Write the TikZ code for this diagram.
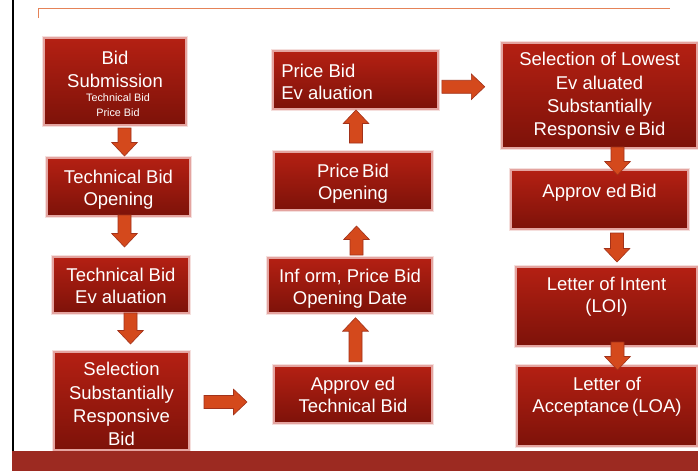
\documentclass[tikz,border=0pt]{standalone}
\usepackage{fontspec}
\setmainfont{Liberation Sans}
\usetikzlibrary{calc}
\definecolor{boxtop}{HTML}{B42013}
\definecolor{boxbot}{HTML}{7D1209}
\definecolor{boxglow}{HTML}{E4A4A0}
\definecolor{arrfill}{HTML}{D4491C}
\definecolor{arrline}{HTML}{A2321A}
\definecolor{bandred}{HTML}{9C2A21}
\definecolor{topline}{HTML}{E58358}
\tikzset{
  box/.style={draw=boxglow, line width=1.2pt, top color=boxtop, bottom color=boxbot,
    inner sep=0pt, preaction={draw=boxglow, line width=4pt, opacity=0.35}},
  txt/.style={text=white, align=center, inner sep=0pt, anchor=north,
    font=\fontsize{18.5}{22.5}\selectfont},
  txttall/.style={txt, font=\fontsize{18.5}{23.3}\selectfont},
  smalltxt/.style={text=white, align=center, inner sep=0pt, anchor=north,
    font=\fontsize{10.8}{15}\selectfont},
  arr/.style={fill=arrfill, draw=arrline, line width=0.6pt, line join=miter}
}
\newcommand\blockarr[3]{%
  \begin{scope}[shift={#1},rotate=#2]
    \draw[arr] ({-#3/2},-6.5) -- ({#3/2-13.5},-6.5) -- ({#3/2-13.5},-12.8) -- ({#3/2},0)
      -- ({#3/2-13.5},12.8) -- ({#3/2-13.5},6.5) -- ({-#3/2},6.5) -- cycle;
  \end{scope}}
\begin{document}
\begin{tikzpicture}[x=1pt,y=-1pt]
\useasboundingbox (0,0) rectangle (698,471);
\fill[white] (0,0) rectangle (698,471);
% frame lines
\draw[topline, line width=1pt] (38,18) -- (38,8) -- (670,8);
\fill[black] (12,0) rectangle (14,451);
% boxes
\node[box, minimum width=142pt, minimum height=87pt] (b1) at (115,81.5) {};
\node[box, minimum width=143pt, minimum height=58pt] (b2) at (118.5,187) {};
\node[box, minimum width=136pt, minimum height=56pt] (b3) at (121,285) {};
\node[box, minimum width=135pt, minimum height=98pt] (b4) at (121.5,401) {};
\node[box, minimum width=158pt, minimum height=57pt] (b5) at (353,394.5) {};
\node[box, minimum width=164pt, minimum height=55pt] (b6) at (350,285.5) {};
\node[box, minimum width=158pt, minimum height=58pt] (b7) at (353,181) {};
\node[box, minimum width=165pt, minimum height=58pt] (b8) at (355.5,80) {};
\node[box, minimum width=195pt, minimum height=105pt] (b9) at (599.5,95.5) {};
\node[box, minimum width=177pt, minimum height=59pt] (b10) at (599.5,199.5) {};
\node[box, minimum width=181pt, minimum height=79pt] (b11) at (606.5,306.5) {};
\node[box, minimum width=180pt, minimum height=80pt] (b12) at (607,406) {};
% texts
\node[txt] (t1) at ([yshift=-13.7pt]b1.north) {Bid\\Submission};
\node[smalltxt] (t1s) at ([xshift=3pt,yshift=-56pt]b1.north) {Technical Bid\\Price Bid};
\node[txt] (t2) at ([yshift=-12pt]b2.north) {Technical Bid\\Opening};
\node[txt] (t3) at ([yshift=-11.3pt]b3.north) {Technical Bid\\Ev aluation};
\node[txttall] (t4) at ([yshift=-10.7pt]b4.north) {Selection\\Substantially\\Responsive\\Bid};
\node[txt] (t5) at ([yshift=-11.3pt]b5.north) {Approv ed\\Technical Bid};
\node[txt] (t6) at ([yshift=-11.3pt]b6.north) {Inf orm, Price Bid\\Opening Date};
\node[txt] (t7) at ([yshift=-12.3pt]b7.north) {Price\,Bid\\Opening};
\node[txt, anchor=north west, align=left] (t8) at ([xshift=8.7pt,yshift=-13.3pt]b8.north west) {Price Bid\\Ev aluation};
\node[txttall] (t9) at ([yshift=-9.7pt]b9.north) {Selection of Lowest\\Ev aluated\\Substantially\\Responsiv e\,Bid};
\node[txt] (t10) at ([yshift=-14pt]b10.north) {Approv ed\,Bid};
\node[txt] (t11) at ([yshift=-10.3pt]b11.north) {Letter of Intent\\(LOI)};
\node[txt] (t12) at ([yshift=-11.3pt]b12.north) {Letter of\\Acceptance\,(LOA)};
% block arrows
\blockarr{($(b1.south)!.5!(b2.north)+(7.75,0.5)$)}{-90}{28}
\blockarr{($(b2.south)!.5!(b3.north)+(4.75,-5.5)$)}{-90}{32}
\blockarr{($(b3.south)!.5!(b4.north)+(9.25,-4)$)}{-90}{31}
\blockarr{($(b4.east)!.5!(b5.west)+(-6,4.25)$)}{0}{43}
\blockarr{($(b5.north)!.5!(b6.south)+(4,0.2)$)}{90}{44}
\blockarr{($(b6.north)!.5!(b7.south)+(5,6.5)$)}{90}{29}
\blockarr{($(b7.north)!.5!(b8.south)+(1.75,-4)$)}{90}{33}
\blockarr{($(b8.east)!.5!(b9.west)+(-6.7,-1)$)}{0}{43}
\blockarr{($(b9.south)!.5!(b10.north)+(18,2)$)}{-90}{28}
\blockarr{($(b10.south)!.5!(b11.north)+(14,-0.5)$)}{-90}{29}
\blockarr{($(b11.south)!.5!(b12.north)+(10.75,0)$)}{-90}{28}
% bottom band
\fill[bandred] (12,451) rectangle (698,471);
\end{tikzpicture}
\end{document}
